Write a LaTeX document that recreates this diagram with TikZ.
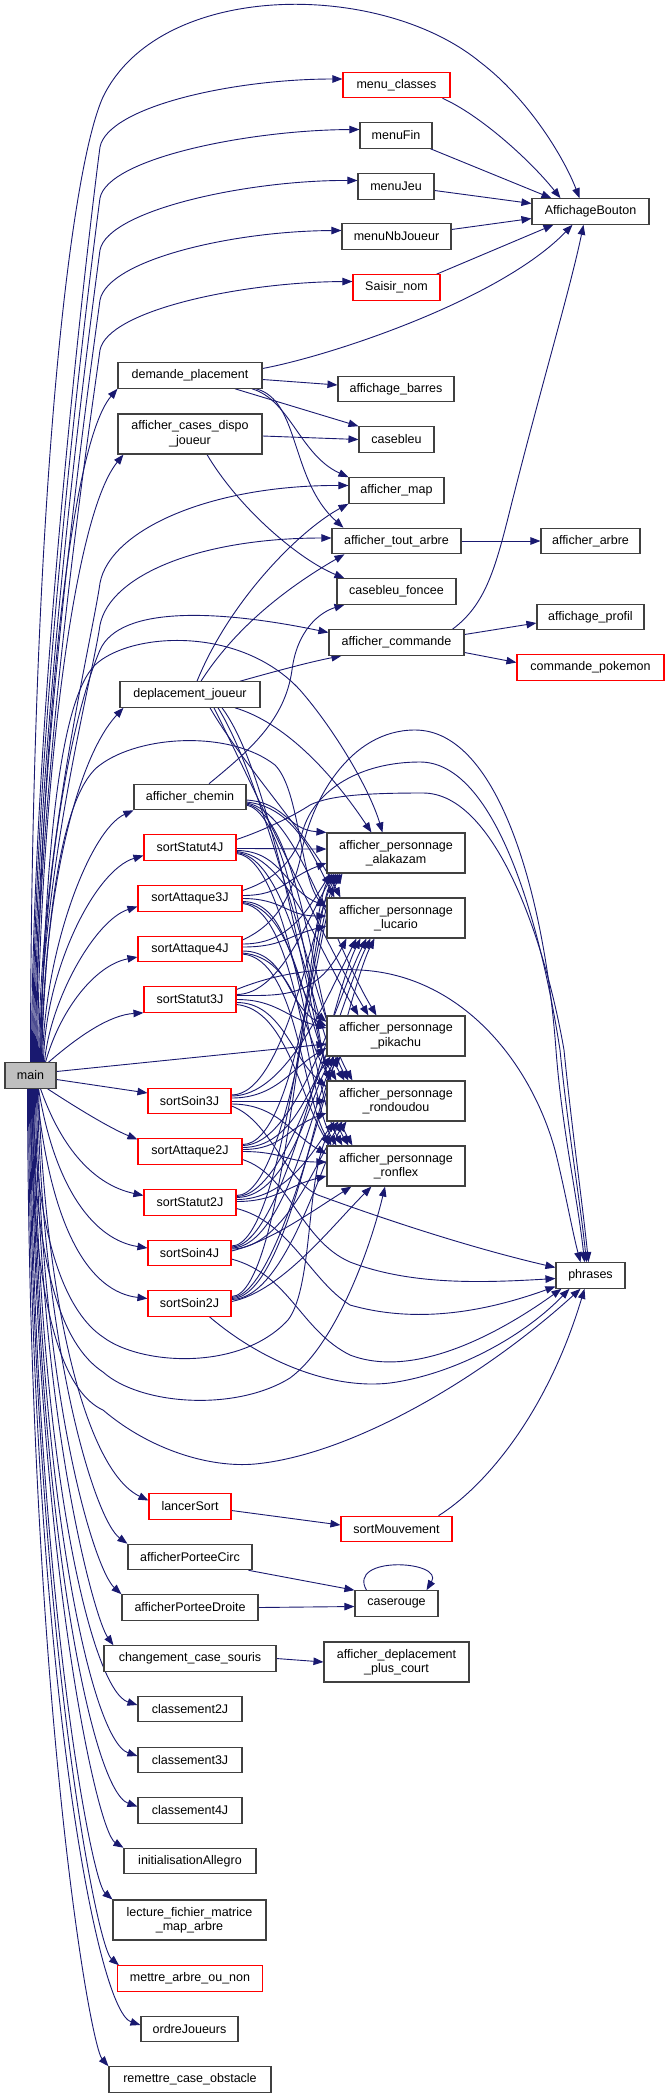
\documentclass[tikz,border=0pt]{standalone}
\usepackage{fontspec}
\setmainfont{Liberation Sans}
\usetikzlibrary{arrows.meta}
\definecolor{edgec}{RGB}{25,25,112}
\definecolor{boxc}{RGB}{64,64,64}
\pgfdeclarelayer{bg}
\pgfdeclarelayer{canvas}
\pgfsetlayers{canvas,bg,main}
\newcommand\pedge[4]{\draw[edge] (#1) .. controls +(#2) and +(#3) .. (#4);}
\begin{document}
\begin{tikzpicture}[x=1pt,y=-1pt,
 box/.style={draw=boxc, line width=1.1pt, fill=white, inner sep=0pt, minimum height=25.5pt, align=center, font=\fontsize{12.5}{14.5}\selectfont},
 rbox/.style={box, draw=red},
 tall/.style={minimum height=40pt},
 edge/.style={draw=edgec, line width=0.9pt, -{Triangle[length=10pt,width=7.5pt]}}]
\begin{pgfonlayer}{canvas}
\fill[white] (0,0) rectangle (667,2098);
\end{pgfonlayer}
\useasboundingbox (0,0) rectangle (667,2098);
% ---------- nodes ----------
\node[box, fill=gray!50, minimum width=51pt] (main) at (30.5,1075.5) {main};
\node[rbox, minimum width=107pt] (mc) at (396.5,85) {menu\_classes};
\node[box, minimum width=72pt] (mfin) at (396,135.5) {menuFin};
\node[box, minimum width=76pt] (mjeu) at (396,186.5) {menuJeu};
\node[box, minimum width=109pt] (mnb) at (396.5,236.5) {menuNbJoueur};
\node[rbox, minimum width=87pt] (sn) at (396.5,287.5) {Saisir\_nom};
\node[box, minimum width=117pt] (ab) at (590.5,211.5) {AffichageBouton};
\node[box, minimum width=144pt] (dp) at (190,375.5) {demande\_placement};
\node[box, minimum width=116pt] (abar) at (396,389) {affichage\_barres};
\node[box, tall, minimum width=144pt] (acdj) at (190,434) {afficher\_cases\_dispo\\\_joueur};
\node[box, minimum width=75pt] (cb) at (396.5,439.5) {casebleu};
\node[box, minimum width=95pt] (amap) at (396.5,490.5) {afficher\_map};
\node[box, minimum width=129pt] (ata) at (396.5,541) {afficher\_tout\_arbre};
\node[box, minimum width=99pt] (aarb) at (590.5,541) {afficher\_arbre};
\node[box, minimum width=119pt] (cbf) at (396.5,591.5) {casebleu\_foncee};
\node[box, minimum width=107pt] (aprof) at (590.5,617) {affichage\_profil};
\node[box, minimum width=135pt] (acom) at (396.5,642.5) {afficher\_commande};
\node[rbox, minimum width=147pt] (cpok) at (590.5,667.5) {commande\_pokemon};
\node[box, minimum width=140pt] (dj) at (190,694.5) {deplacement\_joueur};
\node[box, minimum width=112pt] (ach) at (190,797) {afficher\_chemin};
\node[rbox, minimum width=92pt] (st4) at (190,847.5) {sortStatut4J};
\node[box, tall, minimum width=138pt] (pa) at (396,853) {afficher\_personnage\\\_alakazam};
\node[rbox, minimum width=104pt] (sa3) at (190,898.5) {sortAttaque3J};
\node[box, tall, minimum width=138pt] (pl) at (396,918) {afficher\_personnage\\\_lucario};
\node[rbox, minimum width=104pt] (sa4) at (190,949) {sortAttaque4J};
\node[rbox, minimum width=92pt] (st3) at (190,999.5) {sortStatut3J};
\node[box, tall, minimum width=138pt] (pp) at (396,1036) {afficher\_personnage\\\_pikachu};
\node[rbox, minimum width=83pt] (so3) at (189.5,1101) {sortSoin3J};
\node[box, tall, minimum width=138pt] (pr) at (396,1101) {afficher\_personnage\\\_rondoudou};
\node[rbox, minimum width=104pt] (sa2) at (190,1151.5) {sortAttaque2J};
\node[box, tall, minimum width=138pt] (pf) at (396,1166) {afficher\_personnage\\\_ronflex};
\node[rbox, minimum width=92pt] (st2) at (190,1202.5) {sortStatut2J};
\node[rbox, minimum width=83pt] (so4) at (189.5,1253) {sortSoin4J};
\node[box, minimum width=69pt] (ph) at (590.5,1275.5) {phrases};
\node[rbox, minimum width=83pt] (so2) at (189.5,1303.5) {sortSoin2J};
\node[rbox, minimum width=82pt] (ls) at (190,1506.5) {lancerSort};
\node[rbox, minimum width=111pt] (sm) at (396.5,1529) {sortMouvement};
\node[box, minimum width=124pt] (apc) at (190,1557) {afficherPorteeCirc};
\node[box, minimum width=83pt] (cr) at (396.5,1603.5) {caserouge};
\node[box, minimum width=136pt] (apd) at (190,1607.5) {afficherPorteeDroite};
\node[box, minimum width=172pt] (ccs) at (190,1658.5) {changement\_case\_souris};
\node[box, tall, minimum width=145pt] (adpc) at (396.5,1662) {afficher\_deplacement\\\_plus\_court};
\node[box, minimum width=104pt] (c2) at (190,1709) {classement2J};
\node[box, minimum width=104pt] (c3) at (190,1760) {classement3J};
\node[box, minimum width=104pt] (c4) at (190,1810.5) {classement4J};
\node[box, minimum width=132pt] (ia) at (190,1861) {initialisationAllegro};
\node[box, tall, minimum width=153pt] (lf) at (189.5,1920) {lecture\_fichier\_matrice\\\_map\_arbre};
\node[rbox, minimum width=145pt] (man) at (190,1978.5) {mettre\_arbre\_ou\_non};
\node[box, minimum width=97pt] (oj) at (189.5,2029) {ordreJoueurs};
\node[box, minimum width=162pt] (rco) at (190,2079.5) {remettre\_case\_obstacle};
% ---------- edges ----------
\begin{pgfonlayer}{bg}
% main upward fan
\draw[edge] ([xshift=0pt]main.north) .. controls (31,500) and (70,170) .. (103,97) .. controls (160,-20) and (380,-20) .. (480,62) .. controls (530,100) and (565,160) .. ([xshift=-11pt]ab.north);
\draw[edge] ([xshift=1pt]main.north) .. controls (32,700) and (92,207) .. (100,147) .. controls (108,107) and (232,79) .. ([yshift=6pt]mc.west);
\draw[edge] ([xshift=2pt]main.north) .. controls (33,720) and (92,258) .. (100,198) .. controls (108,158) and (250,130) .. ([yshift=6pt]mfin.west);
\draw[edge] ([xshift=3pt]main.north) .. controls (34,740) and (92,310) .. (100,250) .. controls (108,210) and (248,180) .. ([yshift=6pt]mjeu.west);
\draw[edge] ([xshift=4pt]main.north) .. controls (35,760) and (92,360) .. (100,300) .. controls (108,260) and (232,231) .. ([yshift=6pt]mnb.west);
\draw[edge] ([xshift=5pt]main.north) .. controls (36,780) and (92,410) .. (100,350) .. controls (108,310) and (243,282) .. ([yshift=6pt]sn.west);
\draw[edge] ([xshift=6pt]main.north) .. controls (38,800) and (65,450) .. (dp.south west);
\draw[edge] ([xshift=7pt]main.north) .. controls (39,820) and (70,520) .. ([xshift=6pt]acdj.south west);
\draw[edge] ([xshift=8pt]main.north) .. controls (40,850) and (92,640) .. (100,583) .. controls (110,530) and (210,485) .. ([yshift=5pt]amap.west);
\draw[edge] ([xshift=9pt]main.north) .. controls (41,870) and (92,680) .. (100,625) .. controls (110,575) and (200,538) .. ([yshift=3pt]ata.west);
\draw[edge] ([xshift=10pt]main.north) .. controls (42,880) and (70,720) .. (100,650) .. controls (120,605) and (220,610) .. ([yshift=10pt]acom.west);
\draw[edge] ([xshift=10pt]main.north) .. controls (45,850) and (60,700) .. (95,665) .. controls (130,632) and (240,625) .. (300,690) .. controls (335,730) and (370,790) .. ([xshift=56pt]pa.north west);
\draw[edge] ([xshift=11pt]main.north) .. controls (43,900) and (75,760) .. ([xshift=4pt]dj.south west);
\draw[edge] ([xshift=11pt]main.north) .. controls (46,900) and (65,790) .. (100,765) .. controls (140,735) and (230,730) .. (275,765) .. controls (300,790) and (300,880) .. ([yshift=10pt]pl.west);
\draw[edge] ([xshift=12pt]main.north) .. controls (44,950) and (90,830) .. (ach.south west);
\draw[edge] ([xshift=13pt]main.north) .. controls (45,970) and (95,870) .. ([yshift=-8pt]st4.west);
\draw[edge] ([xshift=14pt]main.north) .. controls (50,1000) and (95,920) .. ([yshift=-8pt]sa3.west);
\draw[edge] ([xshift=15pt]main.north) .. controls (60,1010) and (95,965) .. ([yshift=-8pt]sa4.west);
\draw[edge] ([xshift=18pt]main.north) .. controls (80,1035) and (110,1015) .. (st3.south west);
% main right / down
\draw[edge] ([yshift=4pt]main.east) -- ([yshift=-8pt]pp.west);
\draw[edge] ([yshift=-4pt]main.east) -- ([yshift=8pt]so3.west);
\draw[edge] ([xshift=-9pt]main.south east) .. controls (80,1110) and (110,1128) .. ([yshift=12pt]sa2.west);
\draw[edge] ([xshift=-16pt]main.south east) .. controls (62,1150) and (95,1185) .. ([yshift=7pt]st2.west);
\draw[edge] ([xshift=-18pt]main.south east) .. controls (55,1190) and (95,1240) .. ([yshift=5pt]so4.west);
\draw[edge] ([xshift=-20pt]main.south east) .. controls (50,1230) and (90,1292) .. ([yshift=5pt]so2.west);
\draw[edge] ([xshift=2pt]main.south) .. controls (36,1250) and (70,1315) .. (103,1337) .. controls (140,1365) and (240,1372) .. (288,1320) .. controls (315,1285) and (305,1160) .. ([xshift=12pt]pr.south west);
\draw[edge] ([xshift=1pt]main.south) .. controls (34,1290) and (70,1350) .. (103,1372) .. controls (140,1405) and (235,1412) .. (290,1378) .. controls (335,1345) and (370,1250) .. ([xshift=-11pt]pf.south);
\draw[edge] ([xshift=0pt]main.south) .. controls (31,1330) and (70,1395) .. (103,1410) .. controls (150,1450) and (210,1468) .. (255,1464) .. controls (350,1455) and (480,1380) .. ([xshift=-10pt]ph.south);
% main lower fan
\draw[edge] ([xshift=8pt]main.south) .. controls (45,1300) and (85,1470) .. ([yshift=6pt]ls.west);
\draw[edge] ([xshift=7pt]main.south) .. controls (42,1350) and (95,1520) .. (apc.north west);
\draw[edge] ([xshift=6pt]main.south) .. controls (40,1400) and (95,1570) .. (apd.north west);
\draw[edge] ([xshift=5pt]main.south) .. controls (38,1420) and (95,1620) .. ([xshift=10pt]ccs.north west);
\draw[edge] ([xshift=4pt]main.south) .. controls (36,1450) and (90,1690) .. ([yshift=4pt]c2.west);
\draw[edge] ([xshift=3pt]main.south) .. controls (35,1480) and (90,1740) .. ([yshift=4pt]c3.west);
\draw[edge] ([xshift=2pt]main.south) .. controls (34,1500) and (90,1790) .. ([yshift=4pt]c4.west);
\draw[edge] ([xshift=1pt]main.south) .. controls (33,1530) and (95,1830) .. (ia.north west);
\draw[edge] ([xshift=0pt]main.south) .. controls (32,1560) and (90,1880) .. (lf.north west);
\draw[edge] ([xshift=-1pt]main.south) .. controls (31,1600) and (95,1945) .. ([xshift=2pt]man.north west);
\draw[edge] ([xshift=-2pt]main.south) .. controls (30,1650) and (95,2010) .. ([yshift=4pt]oj.west);
\draw[edge] ([xshift=-3pt]main.south) .. controls (29,1700) and (90,2045) .. (rco.north west);
% upper right part
\draw[edge] ([xshift=-8pt]mc.south east) .. controls (480,115) and (530,160) .. ([xshift=-30pt]ab.north);
\draw[edge] ([xshift=-2pt]mfin.south east) -- ([xshift=20pt]ab.north west);
\draw[edge] ([yshift=-4pt]mjeu.east) -- ([yshift=8pt]ab.west);
\draw[edge] ([yshift=7pt]mnb.east) -- ([yshift=-7pt]ab.west);
\draw[edge] ([xshift=-4pt]sn.north east) -- ([xshift=22pt]ab.south west);
\draw[edge] ([yshift=7pt]dp.east) .. controls (330,356) and (500,300) .. ([xshift=-18pt]ab.south);
\draw[edge] ([yshift=-4pt]dp.east) -- ([yshift=4pt]abar.west);
\draw[edge] ([xshift=45pt]dp.south) -- (cb.north west);
\draw[edge] ([xshift=62pt]dp.south) .. controls (290,400) and (300,455) .. (amap.north west);
\draw[edge] ([xshift=66pt]dp.south) .. controls (300,400) and (290,480) .. ([xshift=12pt]ata.north west);
\draw[edge] ([yshift=-2pt]acdj.east) -- (cb.west);
\draw[edge] ([xshift=17pt]acdj.south) .. controls (240,510) and (300,560) .. ([xshift=8pt]cbf.north west);
\draw[edge] (ata.east) -- (aarb.west);
\draw[edge] ([yshift=8pt]acom.east) -- ([yshift=-6pt]aprof.west);
\draw[edge] ([yshift=-10pt]acom.east) -- ([yshift=5pt]cpok.west);
\draw[edge] ([xshift=56pt]acom.north) .. controls (485,605) and (495,570) .. (510,510) .. controls (540,390) and (570,290) .. ([xshift=-7pt]ab.south);
\draw[edge] ([xshift=7pt]dj.north) .. controls (230,600) and (300,530) .. (amap.south west);
\draw[edge] ([xshift=11pt]dj.north) .. controls (240,620) and (300,580) .. ([xshift=13pt]ata.south west);
\draw[edge] ([xshift=50pt]dj.north) .. controls (280,670) and (310,662) .. ([xshift=13pt]acom.south west);
\draw[edge] ([xshift=19pt]ach.north) .. controls (250,750) and (285,720) .. (292,670) .. controls (297,630) and (320,612) .. ([xshift=8pt]cbf.south west);
% deplacement_joueur -> personnages
\pedge{[xshift=45pt]dj.south}{50,15}{-40,-60}{[xshift=45pt]pa.north west}
\pedge{[xshift=20pt]dj.south}{35,60}{-30,-60}{[xshift=14pt]pl.north west}
\pedge{[xshift=24pt]dj.south}{40,80}{-45,-75}{[xshift=42pt]pp.north west}
\pedge{[xshift=28pt]dj.south}{50,80}{-35,-60}{[xshift=26pt]pr.north west}
\pedge{[xshift=32pt]dj.south}{60,80}{-35,-60}{[xshift=26pt]pf.north west}
% afficher_chemin
\pedge{[yshift=-3pt]ach.east}{40,3}{-40,-3}{pa.north west}
\pedge{[yshift=-5pt]ach.east}{45,5}{-25,-50}{[xshift=8pt]pl.north west}
\pedge{[yshift=-6pt]ach.east}{50,8}{-45,-75}{[xshift=50pt]pp.north west}
\pedge{[yshift=-7pt]ach.east}{55,10}{-30,-50}{[xshift=22pt]pr.north west}
\pedge{[yshift=-8pt]ach.east}{55,12}{-30,-50}{[xshift=22pt]pf.north west}
% sortStatut4J
\pedge{[yshift=-1pt]st4.east}{40,0}{-40,0}{[yshift=4pt]pa.west}
\pedge{[yshift=-3pt]st4.east}{45,0}{-40,-15}{[yshift=12pt]pl.west}
\pedge{[yshift=-4pt]st4.east}{50,5}{-45,-75}{[xshift=32pt]pp.north west}
\pedge{[yshift=-5pt]st4.east}{55,5}{-30,-50}{[xshift=18pt]pr.north west}
\pedge{[yshift=-6pt]st4.east}{55,5}{-30,-50}{[xshift=16pt]pf.north west}
% sortAttaque3J
\pedge{[yshift=3pt]sa3.east}{40,0}{-40,15}{[yshift=-10pt]pa.west}
\pedge{sa3.east}{40,0}{-40,0}{[yshift=2pt]pl.west}
\pedge{[yshift=-3pt]sa3.east}{50,0}{-35,-30}{[yshift=14pt]pp.west}
\pedge{[yshift=-4pt]sa3.east}{55,5}{-30,-50}{[xshift=10pt]pr.north west}
\pedge{[yshift=-5pt]sa3.east}{55,5}{-30,-50}{[xshift=10pt]pf.north west}
% sortAttaque4J
\pedge{[yshift=5pt]sa4.east}{45,0}{-25,40}{[xshift=4pt]pa.south west}
\pedge{[yshift=2pt]sa4.east}{40,0}{-40,10}{[yshift=-8pt]pl.west}
\pedge{[yshift=-2pt]sa4.east}{45,0}{-40,-20}{[yshift=10pt]pp.west}
\pedge{[yshift=-4pt]sa4.east}{55,5}{-30,-50}{[xshift=5pt]pr.north west}
\pedge{[yshift=-5pt]sa4.east}{55,5}{-30,-50}{[xshift=5pt]pf.north west}
% sortStatut3J
\pedge{[yshift=5pt]st3.east}{45,0}{-25,40}{[xshift=8pt]pa.south west}
\pedge{[yshift=4pt]st3.east}{45,0}{-30,60}{[xshift=20pt]pl.south west}
\pedge{st3.east}{40,0}{-40,-10}{[yshift=8pt]pp.west}
\pedge{[yshift=-3pt]st3.east}{45,0}{-35,-30}{[yshift=14pt]pr.west}
\pedge{[yshift=-5pt]st3.east}{50,5}{-30,-50}{[xshift=3pt]pf.north west}
% sortSoin3J
\pedge{[yshift=6pt]so3.east}{55,0}{-25,40}{[xshift=12pt]pa.south west}
\pedge{[yshift=5pt]so3.east}{55,0}{-30,60}{[xshift=30pt]pl.south west}
\pedge{[yshift=3pt]so3.east}{45,0}{-35,20}{[yshift=-12pt]pp.west}
\pedge{so3.east}{40,0}{-40,0}{pr.west}
\pedge{[yshift=-3pt]so3.east}{45,0}{-35,-20}{[yshift=12pt]pf.west}
% sortAttaque2J
\pedge{[yshift=7pt]sa2.east}{55,0}{-25,40}{[xshift=14pt]pa.south west}
\pedge{[yshift=6pt]sa2.east}{55,0}{-30,60}{[xshift=40pt]pl.south west}
\pedge{[yshift=4pt]sa2.east}{50,0}{-22,30}{[xshift=4pt]pp.south west}
\pedge{[yshift=2pt]sa2.east}{40,0}{-40,15}{[yshift=-12pt]pr.west}
\pedge{sa2.east}{40,0}{-40,0}{[yshift=4pt]pf.west}
% sortStatut2J
\pedge{[yshift=7pt]st2.east}{55,0}{-25,40}{[xshift=16pt]pa.south west}
\pedge{[yshift=6pt]st2.east}{55,0}{-30,60}{[xshift=44pt]pl.south west}
\pedge{[yshift=5pt]st2.east}{55,0}{-22,30}{[xshift=8pt]pp.south west}
\pedge{[yshift=3pt]st2.east}{50,0}{-22,30}{[xshift=8pt]pr.south west}
\pedge{[yshift=1pt]st2.east}{40,0}{-40,10}{[yshift=-10pt]pf.west}
% sortSoin4J
\pedge{[yshift=7pt]so4.east}{55,0}{-25,40}{[xshift=10pt]pa.south west}
\pedge{[yshift=6pt]so4.east}{55,0}{-30,60}{[xshift=34pt]pl.south west}
\pedge{[yshift=5pt]so4.east}{55,0}{-22,30}{[xshift=12pt]pp.south west}
\pedge{[yshift=4pt]so4.east}{55,0}{-22,30}{[xshift=16pt]pr.south west}
\pedge{[yshift=2pt]so4.east}{40,-10}{-40,25}{[xshift=25pt]pf.south west}
% sortSoin2J
\pedge{[yshift=7pt]so2.east}{55,0}{-25,40}{[xshift=6pt]pa.south west}
\pedge{[yshift=6pt]so2.east}{55,0}{-30,60}{[xshift=48pt]pl.south west}
\pedge{[yshift=5pt]so2.east}{55,0}{-22,30}{[xshift=14pt]pp.south west}
\pedge{[yshift=4pt]so2.east}{55,0}{-22,30}{[xshift=20pt]pr.south west}
\pedge{[yshift=2pt]so2.east}{50,-10}{-40,40}{[xshift=45pt]pf.south west}
% -> phrases
\draw[edge] ([yshift=9pt]sa4.east) .. controls (275,925) and (290,900) .. (300,860) .. controls (310,800) and (350,730) .. (415,730) .. controls (500,730) and (545,900) .. (556,1050) .. controls (562,1130) and (578,1200) .. ([xshift=-6pt]ph.north);
\draw[edge] ([yshift=8pt]sa3.east) .. controls (275,880) and (295,860) .. (303,830) .. controls (315,790) and (360,762) .. (420,762) .. controls (495,762) and (540,920) .. (560,1050) .. controls (568,1130) and (580,1200) .. ([xshift=-4pt]ph.north);
\draw[edge] ([yshift=8pt]st4.east) .. controls (265,830) and (295,815) .. (310,805) .. controls (330,795) and (370,793) .. (423,793) .. controls (495,793) and (545,940) .. (564,1050) .. controls (572,1130) and (582,1200) .. ([xshift=-2pt]ph.north);
\draw[edge] ([yshift=10pt]st3.east) .. controls (280,972) and (320,968) .. (360,970) .. controls (460,975) and (530,1060) .. (555,1150) .. controls (565,1190) and (572,1230) .. ([xshift=-10pt]ph.north);
\draw[edge] ([yshift=-5pt]so3.east) .. controls (270,1120) and (285,1180) .. (318,1195) .. controls (400,1225) and (480,1250) .. ([yshift=8pt]ph.west);
\draw[edge] ([yshift=-8pt]sa2.east) .. controls (290,1175) and (300,1240) .. (350,1262) .. controls (410,1285) and (480,1283) .. ([yshift=-3pt]ph.west);
\draw[edge] ([yshift=-6pt]st2.east) .. controls (290,1222) and (310,1280) .. (350,1305) .. controls (420,1325) and (490,1310) .. ([yshift=-11pt]ph.west);
\draw[edge] ([yshift=-6pt]so4.east) .. controls (290,1275) and (300,1330) .. (350,1355) .. controls (410,1378) and (490,1340) .. ([xshift=6pt]ph.south west);
\draw[edge] ([xshift=20pt]so2.south) .. controls (260,1360) and (330,1390) .. (390,1383) .. controls (450,1375) and (520,1340) .. ([xshift=14pt]ph.south west);
\draw[edge] ([xshift=42pt]sm.north) .. controls (480,1490) and (545,1420) .. ([xshift=-6pt]ph.south);
% lower part
\draw[edge] ([yshift=-4pt]ls.east) -- ([yshift=4pt]sm.west);
\draw[edge] ([xshift=-4pt]apc.south east) -- (cr.north west);
\draw[edge] (apd.east) -- ([yshift=-3pt]cr.west);
\draw[edge] ([xshift=-30pt]cr.north) .. controls +(-20,-35) and +(18,-30) .. ([xshift=30pt]cr.north);
\draw[edge] (ccs.east) -- (adpc.west);
\end{pgfonlayer}
\end{tikzpicture}
\end{document}
